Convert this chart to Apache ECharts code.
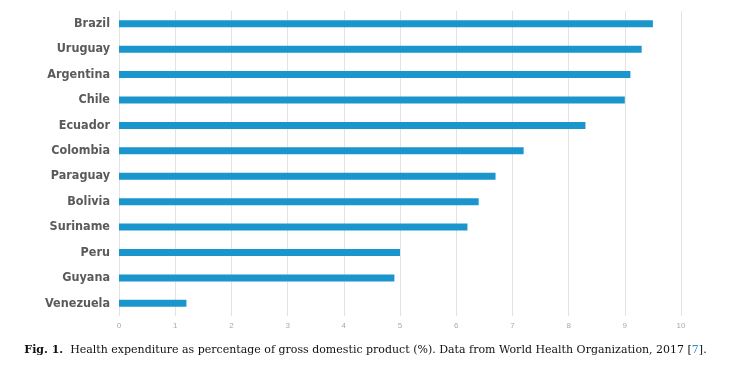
<!DOCTYPE html>
<html><head><meta charset="utf-8">
<script src="https://cdn.jsdelivr.net/npm/echarts@6/dist/echarts.min.js"></script>
<style>html,body{margin:0;padding:0;background:#fff}#c{width:731px;height:366px}</style>
</head><body><div id="c"></div>
<script>
var countries = ["Brazil","Uruguay","Argentina","Chile","Ecuador","Colombia","Paraguay","Bolivia","Suriname","Peru","Guyana","Venezuela"];
var values = [9.5,9.3,9.1,9.0,8.3,7.2,6.7,6.4,6.2,5.0,4.9,1.2];
var xTicks = [0,1,2,3,4,5,6,7,8,9,10];
var chart = echarts.init(document.getElementById('c'));
chart.setOption({
  animation:false,
  grid:{left:119,right:50,top:11,height:305},
  xAxis:{type:'value',min:0,max:10,interval:1,
    axisLine:{show:false},axisTick:{show:false},
    splitLine:{lineStyle:{color:'#e3e3e3',width:1}},
    axisLabel:{color:'#aaa',fontSize:8,margin:6,fontFamily:'Liberation Sans, sans-serif',
      formatter:function(v){return xTicks.indexOf(v)>=0?String(v):'';}}},
  yAxis:{type:'category',data:countries,inverse:true,
    axisLine:{show:false},axisTick:{show:false},
    axisLabel:{color:'#5a5a5a',fontSize:12.5,fontWeight:'bold',margin:9,
      fontFamily:'"Liberation Sans Narrow","DejaVu Sans Condensed",Roboto,sans-serif'}},
  series:[{type:'bar',data:values,barWidth:7,itemStyle:{color:'#1b96cd'}}],
  graphic:[{type:'text',left:'center',top:345,
    style:{text:'{b|Fig. 1.}  Health expenditure as percentage of gross domestic product (%). Data from World Health Organization, 2017 [{l|7}].',
      fontFamily:'"DejaVu Serif", serif',fontSize:11,fill:'#111',
      rich:{b:{fontWeight:'bold',fontFamily:'"DejaVu Serif", serif',fontSize:11,fill:'#111'},
            l:{fontFamily:'"DejaVu Serif", serif',fontSize:11,fill:'#2a8fd8'}}}}]
});
</script></body></html>
